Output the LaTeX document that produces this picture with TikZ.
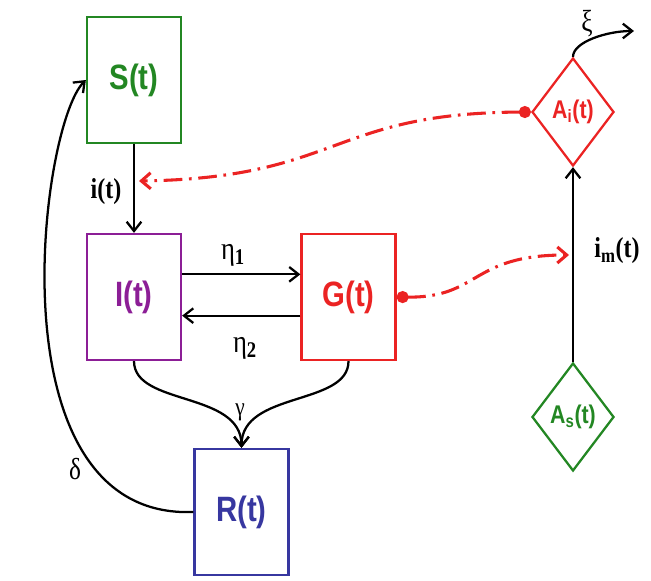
\documentclass[tikz,border=0pt]{standalone}
\usepackage{fontspec}
\usepackage{graphicx}
\setmainfont{Liberation Serif}
\setsansfont{Liberation Sans}
\usetikzlibrary{arrows.meta,shapes.geometric}
\definecolor{sgreen}{RGB}{35,135,35}
\definecolor{ipurple}{RGB}{140,30,150}
\definecolor{gred}{RGB}{235,35,35}
\definecolor{rblue}{RGB}{55,55,160}
\newcommand{\tallbl}[1]{\scalebox{1}[1.2]{#1}}
\begin{document}
\begin{tikzpicture}[x=0.75pt,y=-0.75pt,line width=1.7pt,
  compart/.style={draw,rectangle,minimum width=70.5pt,minimum height=94.5pt,inner sep=0pt,font=\sffamily\bfseries\fontsize{22}{24}\selectfont},
  antenna/.style={draw,diamond,aspect=0.76,minimum width=61.5pt,minimum height=81pt,inner sep=0pt,font=\sffamily\bfseries\fontsize{16}{18}\selectfont},
  flow/.style={-{Straight Barb[length=7pt,width=11pt]}},
  signal/.style={gred,line width=2.3pt,dash pattern=on 14pt off 5pt on 2pt off 5pt,{Circle[length=9pt]}-{Straight Barb[length=7pt,width=12pt]}},
  rate/.style={inner sep=1pt,font=\fontsize{20}{22}\selectfont}]
  \useasboundingbox (0,0) rectangle (651,581);
  \node[compart,sgreen] (S) at (134,80) {\tallbl{S(t)}};
  \node[compart,ipurple] (I) at (134,297) {\tallbl{I(t)}};
  \node[compart,gred] (G) at (348.5,297) {\tallbl{G(t)}};
  \node[compart,rblue] (R) at (241.5,512) {\tallbl{R(t)}};
  \node[antenna,gred] (Ai) at (573,112) {\tallbl{A\textsubscript{i}(t)}};
  \node[antenna,sgreen] (As) at (573,417) {\tallbl{A\textsubscript{s}(t)}};
  \coordinate (itip) at (139,181);
  \coordinate (imtip) at (569,255);
  \coordinate (xiout) at (634,31);
  \draw[flow] (S) -- (I);
  \draw[flow] ([yshift=17pt]I.east) -- ([yshift=17pt]G.west);
  \draw[flow] ([yshift=-14pt]G.west) -- ([yshift=-14pt]I.east);
  \draw[flow] (I.south) .. controls +(0,45) and +(0,-57) .. (R.north);
  \draw[flow] (G.south) .. controls +(0,45) and +(0,-57) .. (R.north);
  \draw[flow] (R.west) .. controls (-10,520) and (40,125) .. (S.west);
  \draw[flow] (As) -- (Ai);
  \draw[flow] (Ai.north) .. controls +(0,-15) and +(-27,0) .. (xiout);
  \draw[signal] (Ai.west) .. controls (330,113) and (340,178) .. (itip);
  \draw[signal] (G.east) .. controls (480,298) and (470,255) .. (imtip);
  \node[rate,font=\bfseries\fontsize{18}{20}\selectfont] (it) at (106,192) {\tallbl{i(t)}};
  \node[rate] (eta1) at (233,255) {\tallbl{η\textsubscript{\textbf{1}}}};
  \node[rate] (eta2) at (245,348) {\tallbl{η\textsubscript{\textbf{2}}}};
  \node[rate,font=\fontsize{16}{18}\selectfont] (gam) at (240,412) {\tallbl{γ}};
  \node[rate,font=\fontsize{19}{21}\selectfont] (del) at (75,469) {\tallbl{δ}};
  \node[rate,font=\fontsize{19}{21}\selectfont] (xi) at (587,24) {\tallbl{ξ}};
  \node[rate,font=\bfseries\fontsize{18}{20}\selectfont] (im) at (617,251) {\tallbl{i\textsubscript{m}(t)}};
\end{tikzpicture}
\end{document}
